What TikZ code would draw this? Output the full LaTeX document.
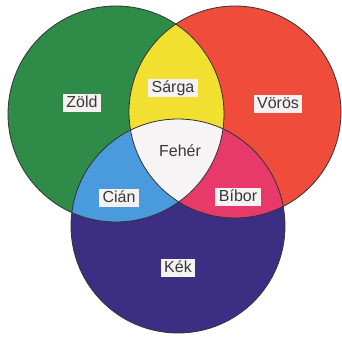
\documentclass[tikz,border=0pt]{standalone}
\usepackage{fontspec}
\setmainfont{Liberation Sans}
\definecolor{cgreen}{RGB}{46,140,72}
\definecolor{cred}{RGB}{240,76,60}
\definecolor{cblue}{RGB}{60,46,130}
\definecolor{cyellow}{RGB}{242,224,48}
\definecolor{ccyan}{RGB}{74,154,222}
\definecolor{cmag}{RGB}{232,58,106}
\definecolor{cwhite}{RGB}{246,244,244}
\definecolor{boxbg}{RGB}{246,242,242}
\definecolor{txt}{RGB}{55,55,60}
\begin{document}
\begin{tikzpicture}[x=1pt,y=-1pt,
  lbl/.style={fill=boxbg,text=txt,font=\fontsize{16}{18}\selectfont,inner xsep=3.5pt,inner ysep=1.5pt,text height=12pt,text depth=3.5pt},
  plain/.style={text=txt,font=\fontsize{16}{18}\selectfont,inner sep=1pt},
  rim/.style={draw=black!80,line width=0.8pt}]
\useasboundingbox[fill=white] (0,0) rectangle (342,337);
\def\G{(116,114) circle[radius=108]}
\def\R{(235,112) circle[radius=106]}
\def\B{(178,226) circle[radius=107]}
\fill[cgreen] \G;
\fill[cred] \R;
\fill[cblue] \B;
\begin{scope}\clip \G; \fill[cyellow] \R; \end{scope}
\begin{scope}\clip \G; \fill[ccyan] \B; \end{scope}
\begin{scope}\clip \R; \fill[cmag] \B; \end{scope}
\begin{scope}\clip \G; \clip \R; \fill[cwhite] \B; \end{scope}
\draw[rim] \G;
\draw[rim] \R;
\draw[rim] \B;
\node[lbl] (zold) at (82,103) {Zöld};
\node[lbl] (sarga) at (173,88) {Sárga};
\node[lbl] (voros) at (278,104) {Vörös};
\node[plain] (feher) at (180,151) {Fehér};
\node[lbl] (cian) at (119,198) {Cián};
\node[lbl] (bibor) at (238,197) {Bíbor};
\node[lbl] (kek) at (178,268) {Kék};
\end{tikzpicture}
\end{document}
